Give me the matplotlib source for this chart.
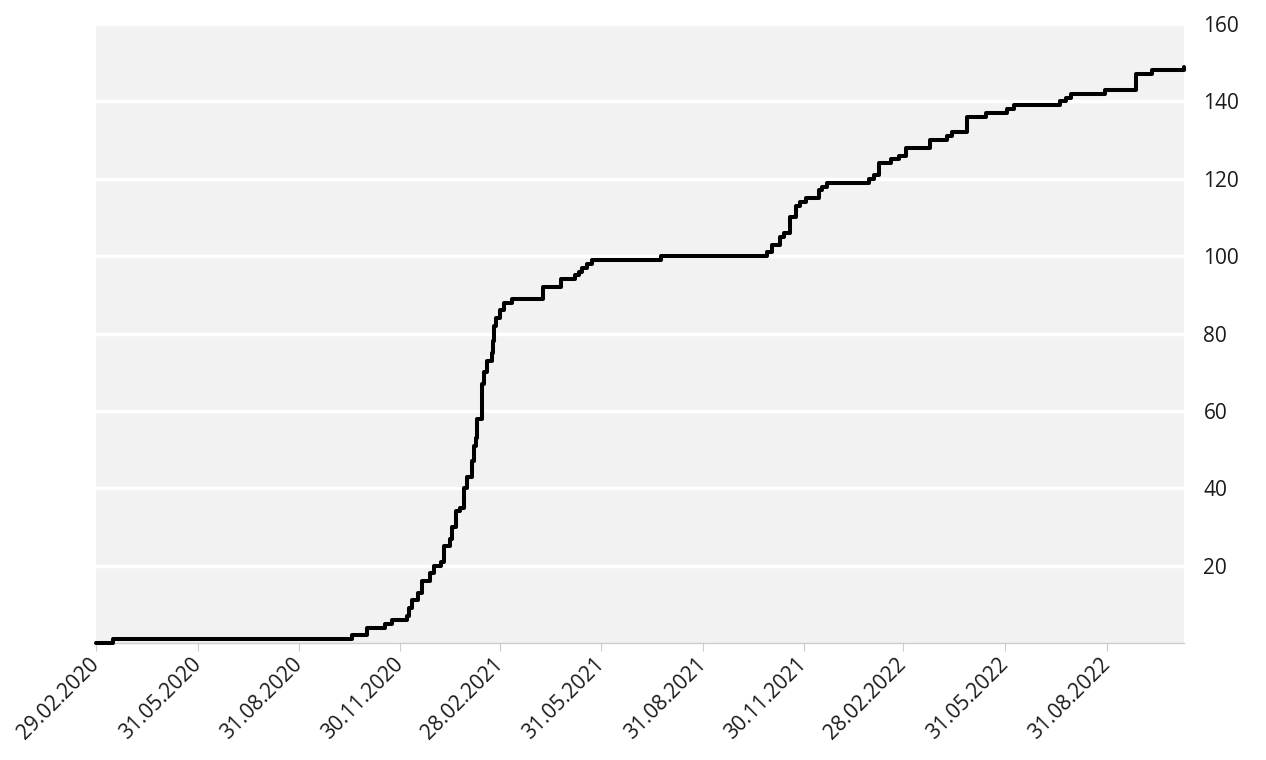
import pandas as pd
import matplotlib
matplotlib.use('Agg')
from matplotlib import pyplot as plt
import matplotlib.dates as mdates

plt.rcParams['font.family'] = ['Open Sans', 'DejaVu Sans']

# Cumulative count, value changes on these dates (step-post)
dates = ['2020-02-29', '2020-03-15', '2020-10-18', '2020-10-31', '2020-11-16',
         '2020-11-23', '2020-12-06', '2020-12-08', '2020-12-11', '2020-12-16',
         '2020-12-20', '2020-12-27', '2020-12-31', '2021-01-06', '2021-01-09',
         '2021-01-14', '2021-01-16', '2021-01-20', '2021-01-23', '2021-01-27',
         '2021-01-30', '2021-02-03', '2021-02-05', '2021-02-07', '2021-02-08',
         '2021-02-12', '2021-02-14', '2021-02-17', '2021-02-21', '2021-02-22',
         '2021-02-23', '2021-02-25', '2021-02-28', '2021-03-04', '2021-03-11',
         '2021-04-08', '2021-04-25', '2021-05-07', '2021-05-11', '2021-05-14',
         '2021-05-18', '2021-05-23', '2021-07-24', '2021-10-28', '2021-11-01',
         '2021-11-09', '2021-11-12', '2021-11-18', '2021-11-23', '2021-11-27',
         '2021-12-02', '2021-12-14', '2021-12-17', '2021-12-21', '2022-01-28',
         '2022-02-02', '2022-02-06', '2022-02-17', '2022-02-24', '2022-03-03',
         '2022-03-24', '2022-04-09', '2022-04-13', '2022-04-27', '2022-05-14',
         '2022-06-02', '2022-06-08', '2022-07-20', '2022-07-25', '2022-07-30',
         '2022-08-30', '2022-09-27', '2022-10-11', '2022-11-09']
values = [0, 1, 2, 4, 5,
          6, 7, 9, 11, 13,
          16, 18, 20, 21, 25,
          27, 30, 34, 35, 40,
          43, 47, 51, 53, 58,
          67, 70, 73, 75, 78,
          82, 84, 86, 88, 89,
          92, 94, 95, 96, 97,
          98, 99, 100, 101, 103,
          105, 106, 110, 113, 114,
          115, 117, 118, 119, 120,
          121, 124, 125, 126, 128,
          130, 131, 132, 136, 137,
          138, 139, 140, 141, 142,
          143, 147, 148, 149]

tick_dates = ['2020-02-29', '2020-05-31', '2020-08-31', '2020-11-30',
              '2021-02-28', '2021-05-31', '2021-08-31', '2021-11-30',
              '2022-02-28', '2022-05-31', '2022-08-31']
y_ticks = [20, 40, 60, 80, 100, 120, 140, 160]

x = pd.to_datetime(dates)
ticks = pd.to_datetime(tick_dates)

fig = plt.figure(figsize=(12.66, 7.6), dpi=100)
ax = fig.add_axes([0.0758, 0.1539, 0.8594, 0.8145])
ax.set_facecolor('#f2f2f2')

ax.step(x, values, where='post', color='black', linewidth=2.9,
        solid_capstyle='round', solid_joinstyle='round', zorder=3,
        clip_on=False)

ax.set_xlim(x[0], x[-1])
ax.set_ylim(0, 160)

# White horizontal grid, labels on the right
ax.set_yticks(y_ticks)
ax.yaxis.tick_right()
ax.tick_params(axis='y', length=0, pad=14, labelsize=15, labelcolor='#1a1a1a')
ax.grid(axis='y', color='white', linewidth=2.5, zorder=1)
ax.set_axisbelow(True)

ax.set_xticks(ticks)
ax.xaxis.set_major_formatter(mdates.DateFormatter('%d.%m.%Y'))
ax.tick_params(axis='x', length=6, color='#cccccc', labelsize=15,
               labelcolor='#1a1a1a', pad=7)
for lbl in ax.get_xticklabels():
    lbl.set_rotation(45)
    lbl.set_ha('right')
    lbl.set_va('center')
    lbl.set_rotation_mode('anchor')

for side in ['top', 'left', 'right']:
    ax.spines[side].set_visible(False)
ax.spines['bottom'].set_color('#cccccc')
ax.spines['bottom'].set_linewidth(1)

fig.savefig('out.png', dpi=100)
